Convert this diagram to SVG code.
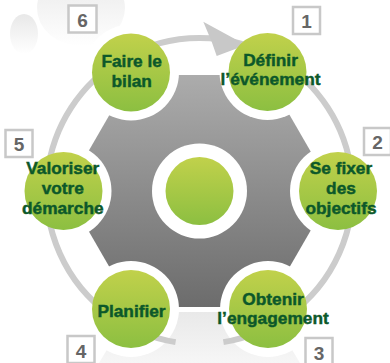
<svg xmlns="http://www.w3.org/2000/svg" width="390" height="363" viewBox="0 0 390 363">
  <defs>
    <linearGradient id="green" x1="0" y1="0" x2="0" y2="1">
      <stop offset="0" stop-color="#c1d14b"/>
      <stop offset="1" stop-color="#8cbf41"/>
    </linearGradient>
    <linearGradient id="hexg" x1="0" y1="0" x2="0" y2="1">
      <stop offset="0" stop-color="#acacac"/>
      <stop offset="1" stop-color="#6c6c6c"/>
    </linearGradient>
    <linearGradient id="refl" x1="0" y1="0" x2="0" y2="1">
      <stop offset="0" stop-color="#e9e9e9"/>
      <stop offset="1" stop-color="#f6f6f6"/>
    </linearGradient>
    <linearGradient id="blob" x1="0" y1="0" x2="0" y2="1">
      <stop offset="0" stop-color="#e8e8e8"/>
      <stop offset="1" stop-color="#ffffff"/>
    </linearGradient>
    <style>
      .halo { fill: #ffffff; }
      .node { fill: url(#green); }
      .lbl { font-family: "Liberation Sans", Arial, sans-serif; font-weight: bold; font-size: 17.3px; fill: #0c582a; stroke: #0c582a; stroke-width: 0.45; text-anchor: middle; }
      .box { fill: #ffffff; stroke: #c8c8c8; stroke-width: 2.5; }
      .num { font-family: "Liberation Sans", Arial, sans-serif; font-weight: bold; font-size: 19px; fill: #666666; text-anchor: middle; }
      .ring { fill: none; stroke: #cccccc; stroke-width: 6; }
    </style>
  </defs>

  <rect x="0" y="0" width="390" height="363" fill="#ffffff"/>

  <!-- faint background blob -->
  <g id="background">
    <ellipse cx="81" cy="8" rx="44" ry="38" fill="url(#blob)"/>
    <ellipse cx="24" cy="34" rx="14" ry="20" fill="url(#blob)"/>
  </g>

  <!-- gear hexagon and reflection -->
  <g id="gear">
    <polygon points="333.5,191 266.5,307 132.5,307 65.5,191 132.5,75 266.5,75" fill="url(#hexg)"/>
    <polygon points="129.6,312 269.4,312 300,363 99,363" fill="url(#refl)"/>
  </g>

  <!-- halos -->
  <g id="halos">
    <circle class="halo" cx="199.5" cy="191" r="47.5"/>
    <circle class="halo" cx="131" cy="72.5" r="48"/>
    <circle class="halo" cx="267.5" cy="72" r="48"/>
    <circle class="halo" cx="338" cy="191" r="48"/>
    <circle class="halo" cx="268" cy="309" r="48"/>
    <circle class="halo" cx="131" cy="309" r="48"/>
    <circle class="halo" cx="63.5" cy="191" r="48"/>
  </g>

  <!-- connectors -->
  <g id="connectors">
    <path class="ring" d="M175.6,342.1 A153,153 0 1,1 223.4,342.1"/>
    <polygon points="203.3,21.7 246,45 216.7,56 211.7,41.7" fill="#c8c8c8"/>
  </g>

  <g id="center">
    <circle class="node" cx="199.5" cy="191" r="34"/>
  </g>

  <g id="node1">
    <circle class="node" cx="267.5" cy="72" r="39"/>
    <text class="lbl" x="270.5" y="65.5">Définir</text>
    <text class="lbl" x="270.5" y="84.5">l’événement</text>
    <rect class="box" x="293" y="7" width="27" height="27"/>
    <text class="num" x="306.5" y="28">1</text>
  </g>

  <g id="node2">
    <circle class="node" cx="338" cy="191" r="39"/>
    <text class="lbl" x="341" y="174">Se fixer</text>
    <text class="lbl" x="341" y="194">des</text>
    <text class="lbl" x="341" y="213.5">objectifs</text>
    <rect class="box" x="364" y="128" width="27" height="27"/>
    <text class="num" x="377.5" y="149">2</text>
  </g>

  <g id="node3">
    <circle class="node" cx="268" cy="309" r="39"/>
    <text class="lbl" x="273" y="305">Obtenir</text>
    <text class="lbl" x="273" y="323.5">l’engagement</text>
    <rect class="box" x="305.5" y="338" width="27" height="27"/>
    <text class="num" x="319" y="359.5">3</text>
  </g>

  <g id="node4">
    <circle class="node" cx="131" cy="309" r="39"/>
    <text class="lbl" x="131.5" y="316.5">Planifier</text>
    <rect class="box" x="67.5" y="336" width="27" height="27"/>
    <text class="num" x="81" y="357.5">4</text>
  </g>

  <g id="node5">
    <circle class="node" cx="63.5" cy="191" r="39"/>
    <text class="lbl" x="62.8" y="174">Valoriser</text>
    <text class="lbl" x="62.8" y="194">votre</text>
    <text class="lbl" x="62.8" y="213.5">démarche</text>
    <rect class="box" x="5.5" y="130" width="27" height="27"/>
    <text class="num" x="19" y="151">5</text>
  </g>

  <g id="node6">
    <circle class="node" cx="131" cy="72.5" r="39"/>
    <text class="lbl" x="131.7" y="66.7">Faire le</text>
    <text class="lbl" x="131.7" y="87.3">bilan</text>
    <rect class="box" x="68.5" y="5.5" width="28" height="27"/>
    <text class="num" x="82.5" y="26.5">6</text>
  </g>
</svg>
